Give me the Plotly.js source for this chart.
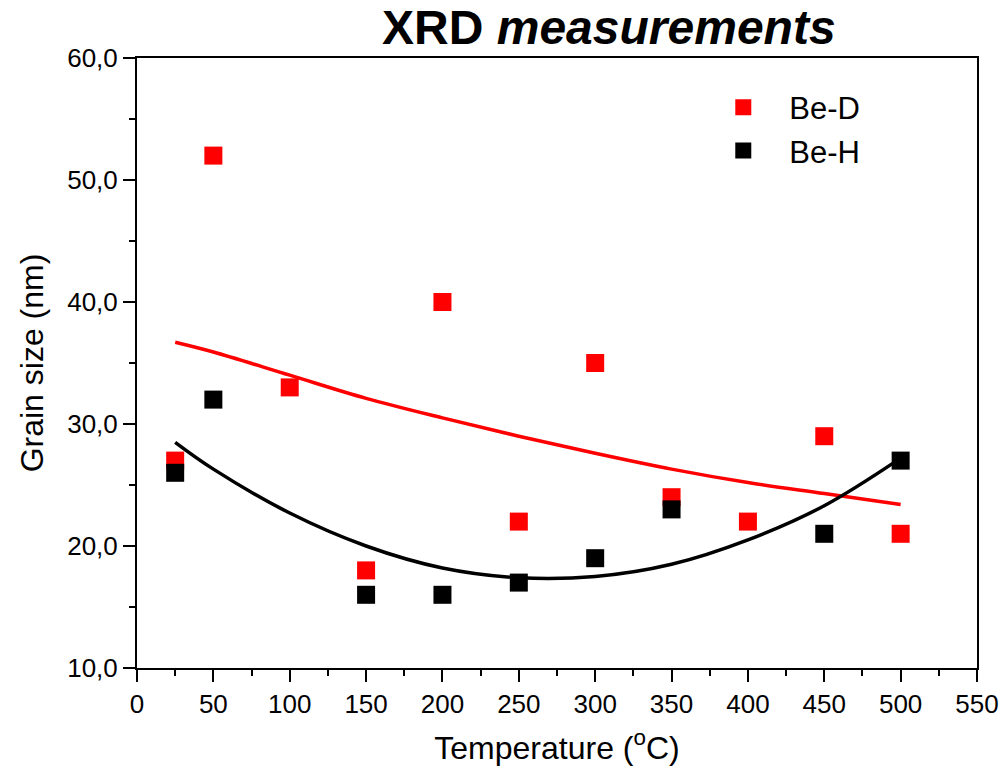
<!DOCTYPE html>
<html><head><meta charset="utf-8">
<script src="https://cdn.plot.ly/plotly-3.0.1.min.js"></script>
<style>body{margin:0;background:#fff}#plot{width:1003px;height:773px}</style>
</head><body><div id="plot"></div>
<script>
const tempD = [25, 50, 100, 150, 200, 250, 300, 350, 400, 450, 500];
const grainD = [27, 52, 33, 18, 40, 22, 35, 24, 22, 29, 21];
const tempH = [25, 50, 150, 200, 250, 300, 350, 450, 500];
const grainH = [26, 32, 16, 16, 17, 19, 23, 21, 27];
const fitX = [25, 50, 100, 150, 200, 250, 300, 350, 400, 450, 500];
const fitD = [36.7, 35.9, 34.0, 32.1, 30.5, 29.0, 27.6, 26.3, 25.2, 24.3, 23.4];
const fitH = [28.5, 26.3, 22.7, 20.0, 18.2, 17.4, 17.5, 18.5, 20.5, 23.3, 27.2];

const FONT = 'Liberation Sans, Arial, sans-serif';
const traces = [
  {x: fitX, y: fitD, mode: 'lines', line: {color: '#ff0000', width: 3.5, shape: 'spline'}, showlegend: false, hoverinfo: 'skip'},
  {x: fitX, y: fitH, mode: 'lines', line: {color: '#000000', width: 3.5, shape: 'spline'}, showlegend: false, hoverinfo: 'skip'},
  {x: tempD, y: grainD, mode: 'markers', name: 'Be-D',
   marker: {symbol: 'square', size: 18, color: '#ff0000', line: {width: 0}}},
  {x: tempH, y: grainH, mode: 'markers', name: 'Be-H',
   marker: {symbol: 'square', size: 18, color: '#000000', line: {width: 0}}}
];

const axisCommon = {
  showgrid: false, zeroline: false, showline: true, linecolor: '#000', linewidth: 2,
  mirror: true, ticks: 'outside', ticklen: 12, tickwidth: 2, tickcolor: '#000',
  tickfont: {family: FONT, size: 26, color: '#000'}
};

const layout = {
  width: 1003, height: 773,
  paper_bgcolor: '#fff', plot_bgcolor: '#fff',
  separators: ',.',
  margin: {l: 137, r: 26, t: 58, b: 105},
  font: {family: FONT, color: '#000'},
  title: {text: '<b>XRD <i>measurements</i></b>', x: 0.607, xanchor: 'center', xref: 'container',
          y: 1 - 27/773, yref: 'container', yanchor: 'middle',
          font: {family: FONT, size: 48, color: '#000'}},
  xaxis: Object.assign({}, axisCommon, {
    range: [0, 550], tickmode: 'linear', tick0: 0, dtick: 50,
    minor: {dtick: 25, ticks: 'outside', ticklen: 6, tickwidth: 2, tickcolor: '#000'},
    title: {text: 'Temperature (<sup>o</sup>C)', standoff: 18, font: {size: 32, color: '#000'}}
  }),
  yaxis: Object.assign({}, axisCommon, {
    range: [10, 60], tickmode: 'linear', tick0: 10, dtick: 10, tickformat: '.1f',
    minor: {dtick: 5, ticks: 'outside', ticklen: 6, tickwidth: 2, tickcolor: '#000'},
    title: {text: 'Grain size (nm)', standoff: 14, font: {size: 32, color: '#000'}}
  }),
  legend: {x: 0.667, y: 0.963, xanchor: 'left', yanchor: 'top', bgcolor: 'rgba(0,0,0,0)',
           itemwidth: 82,
           font: {family: FONT, size: 31, color: '#000'}},
  showlegend: true
};

Plotly.newPlot('plot', traces, layout, {displayModeBar: false, staticPlot: true});
</script></body></html>
